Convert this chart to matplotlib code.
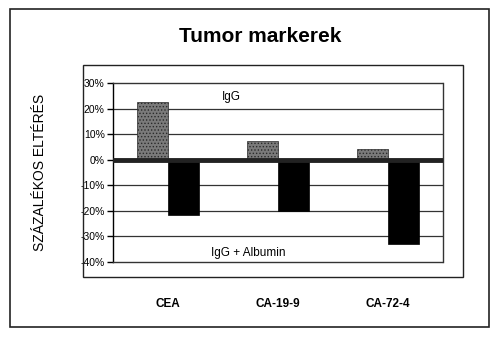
import matplotlib
matplotlib.use("Agg")
import matplotlib.pyplot as plt
from matplotlib.patches import Rectangle
import numpy as np

plt.rcParams['font.family'] = ['Liberation Sans', 'DejaVu Sans']
plt.rcParams['hatch.linewidth'] = 0.6

categories = ["CEA", "CA-19-9", "CA-72-4"]
igg = [22.5, 7.5, 4.0]
igg_albumin = [-21.5, -20.0, -33.0]
yticks = [30, 20, 10, 0, -10, -20, -30, -40]
ytick_labels = ["30%", "20%", "10%", "0%", "-10%", "-20%", "-30%", "-40%"]

W, H = 500, 337
fig = plt.figure(figsize=(W / 100, H / 100), dpi=100)
fig.patch.set_facecolor('white')

# frames
fig.add_artist(Rectangle((10 / W, 1 - 327 / H), 479 / W, 318 / H, transform=fig.transFigure,
                         fill=False, edgecolor='#222', lw=1.2))
fig.add_artist(Rectangle((83 / W, 1 - 277 / H), 380 / W, 212 / H, transform=fig.transFigure,
                         fill=False, edgecolor='#222', lw=1.0))

ax = fig.add_axes([113 / W, 1 - 262 / H, 330 / W, 179 / H])
x = np.arange(len(categories))
bw = 0.28
ax.bar(x - bw / 2, igg, width=bw, facecolor='#7a7a7a', edgecolor='#2a2a2a', hatch='.....',
       lw=0.5, zorder=3)
ax.bar(x + bw / 2, igg_albumin, width=bw, facecolor='black', edgecolor='black', lw=0.5, zorder=3)

ax.set_xlim(-0.5, 2.5)
ax.set_ylim(-40, 30)
for yv in [20, 10, -10, -20, -30]:
    ax.axhline(yv, color='#333', lw=0.9, zorder=1)
ax.axhline(0, color='#222', lw=3.5, zorder=4)

for s in ['top', 'bottom']:
    ax.spines[s].set_linestyle((0, (1, 1)))
    ax.spines[s].set_linewidth(1.0)
    ax.spines[s].set_color('#333')
ax.spines['left'].set_linewidth(1.0)
ax.spines['right'].set_linewidth(1.0)
ax.spines['right'].set_color('#333')

ax.set_yticks(yticks)
ax.set_yticklabels(ytick_labels, fontsize=7.5)
ax.tick_params(axis='y', direction='out', length=4, width=1, pad=2)
ax.set_xticks(x)
ax.set_xticklabels(categories, fontsize=8.5, fontweight='bold')
ax.tick_params(axis='x', length=0, pad=26)

ax.text(0.58, 24.6, "IgG", ha='center', va='center', fontsize=8.5)
ax.text(0.73, -36.3, "IgG + Albumin", ha='center', va='center', fontsize=8.5)

fig.text(260 / W, 1 - 37 / H, "Tumor markerek", ha='center', va='center', fontsize=15,
         fontweight='bold')
fig.text(40 / W, 1 - 172 / H, "SZÁZALÉKOS ELTÉRÉS", ha='center', va='center', rotation=90,
         fontsize=10)

fig.savefig("out.png", dpi=100)
